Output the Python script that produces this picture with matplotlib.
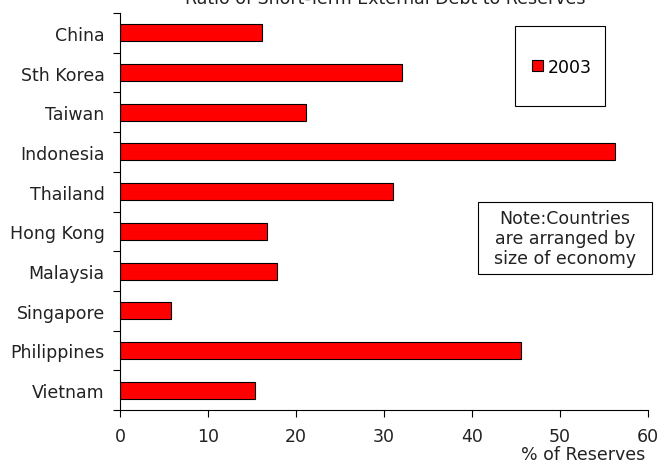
import matplotlib.pyplot as plt
from matplotlib.patches import Rectangle

# Short-term external debt as % of reserves, 2003
countries = ['China', 'Sth Korea', 'Taiwan', 'Indonesia', 'Thailand',
             'Hong Kong', 'Malaysia', 'Singapore', 'Philippines', 'Vietnam']
ratio_2003 = [16.1, 32.1, 21.1, 56.3, 31.0, 16.7, 17.8, 5.8, 45.6, 15.3]
xticks = [0, 10, 20, 30, 40, 50, 60]

plt.rcParams['font.family'] = 'DejaVu Sans'
fs = 12.5
W, H = 662, 464
fig = plt.figure(figsize=(W / 100, H / 100), dpi=100)
ax = fig.add_axes([120 / W, 1 - 411 / H, (648 - 120) / W, (411 - 14) / H])

pos = list(range(len(countries)))
ax.barh(pos, ratio_2003, height=0.43, color='#ff0000', edgecolor='black',
        linewidth=0.8, label='2003')

ax.set_ylim(len(countries) - 0.5, -0.5)
ax.set_xlim(0, 60)
ax.set_xticks(xticks)
ax.set_yticks(pos)
ax.set_yticklabels(countries)
ax.set_yticks([p - 0.5 for p in range(len(countries) + 1)], minor=True)
ax.tick_params(axis='y', which='major', length=0, pad=11, labelsize=fs,
               labelcolor='#222222')
ax.tick_params(axis='y', which='minor', length=5, width=0.8, direction='out')
ax.tick_params(axis='x', length=5, width=0.8, direction='out', pad=7,
               labelsize=fs, labelcolor='#222222')
for s in ['top', 'right']:
    ax.spines[s].set_visible(False)
for s in ['left', 'bottom']:
    ax.spines[s].set_linewidth(0.8)

# title sits mostly above the canvas
fig.text(385 / W, 1 + 1 / H, 'Ratio of Short-Term External Debt to Reserves',
         ha='center', va='center', fontsize=fs, color='#222222')
fig.text(645 / W, 1 - 455 / H, '% of Reserves', ha='right', va='center',
         fontsize=fs, color='#222222')

# legend box
fig.patches.append(Rectangle((515 / W, 1 - 107 / H), 90 / W, 80 / H,
                             transform=fig.transFigure, fill=False,
                             edgecolor='black', linewidth=0.8))
fig.legend(loc='center', bbox_to_anchor=(562 / W, 1 - 68 / H), frameon=False,
           handlelength=0.6, handleheight=0.6, handletextpad=0.3,
           fontsize=fs, borderpad=0)

# note box
fig.patches.append(Rectangle((478 / W, 1 - 275 / H), 174 / W, 72 / H,
                             transform=fig.transFigure, fill=False,
                             edgecolor='black', linewidth=0.8))
fig.text(565 / W, 1 - 239 / H, 'Note:Countries\nare arranged by\nsize of economy',
         ha='center', va='center', fontsize=fs, color='#222222',
         linespacing=1.15)

fig.savefig('out.png', dpi=100)
